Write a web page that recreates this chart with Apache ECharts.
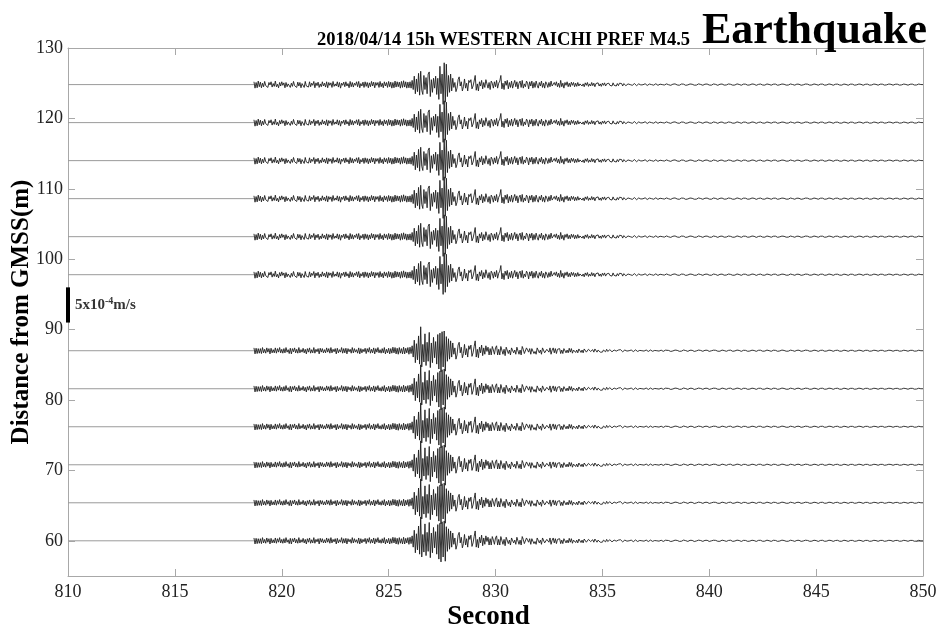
<!DOCTYPE html>
<html>
<head>
<meta charset="utf-8">
<script src="https://cdn.jsdelivr.net/npm/echarts@6/dist/echarts.min.js"></script>
<style>html,body{margin:0;padding:0;background:#fff}#c{width:941px;height:633px}</style>
</head>
<body>
<div id="c"></div>
<script>
// ---- Data (velocity in units of 1e-4 m/s, time in seconds) ----
const xTicks = [810, 815, 820, 825, 830, 835, 840, 845, 850];
const yTicks = [60, 70, 80, 90, 100, 110, 120, 130];
const yMin = 55;
const lowerDistances = [60, 65.4, 70.8, 76.2, 81.6, 87];
const upperDistances = [97.8, 103.2, 108.6, 114, 119.4, 124.8];
const recordStart = 810;
const onsetTime = 818.7;     // first sample of the waveform arrays
const mainStep = 0.05;       // s, waveform arrays 818.70 - 837.95
const tailStart = 838;
const tailStep = 0.1;        // s, tail arrays 838.0 - 849.9
const recordEnd = 850;
const scaleBar = [91, 96];   // 5x10^-4 m/s

// upper group (97.8 - 124.8 m)
const upperWave = [
0.4,-0.5,0.3,-0.45,0.5,-0.3,
0.35,-0.45,0.2,-0.3,0.45,-0.15,0.1,-0.4,0.3,-0.05,0.4,-0.35,0.15,-0.25,0.5,-0.3,0.05,-0.45,0.3,-0.2,
0.4,-0.1,0.25,-0.45,0.3,-0.3,0.1,0.35,-0.4,0.2,-0.25,0.45,-0.15,0.0,-0.4,0.35,-0.2,0.3,-0.45,0.15,
0.3,-0.4,0.45,-0.2,0.05,-0.35,0.4,-0.3,0.2,-0.1,0.45,-0.45,0.25,-0.15,0.35,-0.4,0.1,-0.3,0.4,-0.2,
0.2,-0.35,0.4,-0.45,0.3,-0.1,0.25,-0.4,0.45,-0.25,0.1,-0.2,0.4,-0.35,0.3,-0.5,0.2,-0.1,0.35,-0.3,
0.4,-0.2,0.15,-0.45,0.45,-0.3,0.3,-0.35,0.2,-0.1,0.4,-0.3,0.45,-0.45,0.15,-0.2,0.35,-0.4,0.4,-0.25,
0.3,-0.45,0.25,-0.3,0.45,-0.2,0.35,-0.45,0.3,-0.1,0.3,-0.4,0.45,-0.3,0.2,-0.45,0.4,-0.2,0.3,-0.4,
0.45,-0.3,0.35,-0.5,0.3,-0.45,0.5,-0.35,0.4,-0.3,0.35,-0.5,0.45,-0.4,0.55,-0.35,0.4,-0.5,0.35,-0.45,
0.4,-0.5,0.6,-0.7,1.2,-1.3,0.8,-1.0,1.6,-1.5,1.9,-0.8,-1.4,1.3,-0.7,1.0,-1.3,1.5,1.8,-1.7,
0.7,-1.1,0.9,-0.5,1.2,-1.4,0.9,-2.1,2.6,-1.3,1.5,-2.8,3.1,-2.5,2.9,-1.7,1.3,-1.1,1.5,-0.9,
0.9,-0.4,0.3,-1.0,-0.5,0.7,1.1,-0.2,0.4,-0.9,-0.3,0.8,-0.5,0.2,-0.9,0.6,0.3,0.7,-0.6,-0.2,
0.5,1.3,-0.8,0.1,-0.9,0.4,-0.2,0.6,-0.6,0.3,-0.4,0.7,0.1,-0.5,0.3,-0.7,0.5,0.2,-0.5,0.4,
-0.3,0.6,-0.5,0.2,0.5,1.3,-0.6,0.2,-0.7,0.5,-0.1,0.6,-0.6,0.3,-0.4,0.5,-0.5,0.1,0.6,-0.3,
0.4,-0.6,0.2,0.5,-0.4,0.6,-0.5,0.1,-0.3,0.5,0.2,-0.6,0.4,-0.2,0.5,-0.5,0.3,-0.4,0.5,-0.1,
-0.5,0.3,-0.2,0.5,-0.4,0.2,-0.5,0.4,0.1,-0.4,0.3,-0.3,0.5,-0.2,-0.4,0.3,-0.1,0.4,-0.3,0.2,
-0.4,0.6,-0.3,0.2,-0.5,0.3,-0.1,0.4,-0.3,0.2,-0.3,0.35,-0.1,0.3,-0.3,0.2,-0.25,0.3,-0.2,0.1,
0.3,-0.2,0.1,-0.3,0.25,-0.1,0.3,-0.25,0.1,-0.2,0.3,-0.15,0.2,-0.3,0.15,-0.1,0.25,-0.2,0.1,-0.25,
0.2,-0.1,0.25,-0.2,0.1,-0.15,0.2,-0.1,0.15,-0.2,0.25,-0.1,0.1,-0.2,0.15,-0.15,0.2,-0.05,0.15,-0.2,
0.15,-0.05,-0.15,-0.05,0.1,0.15,0.0,-0.15,-0.1,0.1,0.15,0.0,-0.15,-0.05,0.1,0.1,-0.05,-0.12,-0.02,0.1,
0.12,0.0,-0.12,-0.08,0.08,0.12,0.0,-0.1,-0.08,0.05,0.12,0.02,-0.1,-0.08,0.06,0.1,0.0,-0.1,-0.06,0.08
];
const upperTail = [
0.1,-0.02,-0.1,0.06,0.1,-0.05,-0.09,0.08,0.06,-0.1,
-0.04,0.09,0.05,-0.08,-0.07,0.1,0.02,-0.09,0.06,0.08,
-0.06,-0.08,0.09,0.03,-0.1,0.05,0.08,-0.07,-0.05,0.09,
0.04,-0.08,-0.06,0.1,0.02,-0.09,0.07,0.06,-0.08,-0.04,
0.09,0.05,-0.1,0.03,0.08,-0.06,-0.07,0.09,0.02,-0.08,
0.06,0.07,-0.09,-0.02,0.08,0.05,-0.07,-0.06,0.09,0.01,
-0.08,0.07,0.05,-0.09,-0.03,0.08,0.06,-0.07,-0.05,0.09,
0.02,-0.08,0.06,0.07,-0.08,-0.04,0.09,0.03,-0.09,0.05,
0.07,-0.06,-0.07,0.08,0.02,-0.09,0.06,0.06,-0.08,-0.03,
0.08,0.04,-0.09,0.04,0.07,-0.07,-0.05,0.08,0.03,-0.08,
0.06,0.06,-0.07,-0.03,0.08,0.04,-0.08,0.05,0.06,-0.07,
-0.04,0.08,0.02,-0.08,0.05,0.07,-0.06,-0.05,0.08,0.01
];

// lower group (60 - 87 m)
const lowerWave = [
0.4,-0.45,0.35,-0.4,0.3,-0.35,
0.3,-0.4,0.45,-0.3,0.2,-0.35,0.4,-0.2,0.3,-0.45,0.35,-0.3,0.15,-0.3,0.4,-0.35,0.3,-0.2,0.45,-0.3,
0.2,-0.35,0.3,-0.3,0.45,-0.2,0.15,-0.4,0.35,-0.45,0.3,-0.15,0.4,-0.3,0.2,-0.35,0.45,-0.3,0.15,-0.2,
0.35,-0.3,0.2,-0.45,0.3,-0.2,0.4,-0.35,0.15,-0.3,0.45,-0.35,0.2,-0.15,0.3,-0.45,0.35,-0.2,0.3,-0.3,
0.15,-0.3,0.4,-0.2,0.3,-0.35,0.45,-0.3,0.2,-0.15,0.3,-0.45,0.35,-0.3,0.15,-0.2,0.45,-0.35,0.3,-0.3,
0.35,-0.45,0.3,-0.15,0.2,-0.35,0.45,-0.3,0.3,-0.2,0.15,-0.35,0.4,-0.45,0.3,-0.3,0.2,-0.15,0.35,-0.4,
0.3,-0.2,0.45,-0.35,0.2,-0.3,0.4,-0.45,0.3,-0.2,0.45,-0.3,0.15,-0.35,0.3,-0.3,0.45,-0.45,0.2,-0.3,
0.35,-0.45,0.3,-0.35,0.5,-0.3,0.45,-0.45,0.35,-0.5,0.45,-0.35,0.3,-0.45,0.5,-0.45,0.35,-0.3,0.45,-0.5,
0.5,-0.4,0.7,-0.9,1.5,-1.7,1.0,-1.3,2.1,-1.9,3.4,-2.3,0.9,-1.6,2.4,-2.1,1.2,-1.5,2.6,-2.4,
1.1,-1.7,1.9,-1.0,1.3,-1.9,2.3,-2.6,2.5,-3.0,2.7,-2.3,2.8,-2.9,2.0,-1.5,1.7,-1.2,1.4,-0.9,
1.1,-0.5,0.4,-1.2,-0.6,0.8,1.2,-0.3,0.5,-1.0,-0.4,0.9,-0.6,0.3,-0.9,0.7,0.2,0.8,-0.8,-0.3,
0.6,1.4,-0.9,0.2,-1.0,0.5,-0.3,0.8,-0.7,0.4,-0.5,0.7,-0.1,0.5,-0.6,0.3,-0.6,0.6,0.1,-0.5,
0.4,0.7,-0.6,0.2,-0.6,0.6,0.7,-0.5,0.2,-0.7,0.5,0.6,-0.4,0.1,-0.6,0.4,0.6,-0.3,0.1,-0.5,
0.5,0.5,-0.5,0.1,-0.6,0.6,0.2,-0.4,-0.5,0.4,0.6,-0.2,0.3,-0.5,0.3,0.5,-0.4,-0.1,-0.5,0.4,
0.5,-0.3,0.1,-0.5,0.4,0.5,-0.3,-0.5,0.2,0.4,-0.2,0.4,-0.5,0.1,0.4,-0.3,0.3,-0.4,0.2,0.4,
0.3,-0.4,0.1,-0.4,0.3,0.4,-0.3,0.1,-0.3,0.35,-0.2,0.3,-0.35,0.1,0.3,-0.25,0.1,-0.3,0.25,0.2,
-0.25,0.1,-0.3,0.25,0.1,-0.2,-0.25,0.2,0.25,-0.1,-0.2,0.15,-0.2,0.25,0.05,-0.2,0.1,0.15,-0.2,-0.05,
-0.2,0.1,0.15,-0.15,0.2,-0.1,-0.2,0.15,0.1,-0.15,-0.2,0.1,0.15,-0.05,-0.15,0.1,-0.1,0.15,0.05,-0.15,
-0.1,0.1,0.15,-0.05,-0.15,0.0,0.12,0.1,-0.08,-0.12,0.02,0.12,0.06,-0.1,-0.1,0.05,0.12,0.0,-0.1,-0.05,
0.08,0.1,-0.04,-0.1,-0.02,0.1,0.06,-0.08,-0.08,0.04,0.1,0.0,-0.1,-0.05,0.07,0.08,-0.04,-0.09,0.0,0.08
];
const lowerTail = [
0.08,0.04,-0.1,-0.03,0.09,0.05,-0.08,-0.06,0.1,0.02,
-0.09,0.07,0.06,-0.1,-0.02,0.09,0.04,-0.08,0.06,0.07,
-0.09,-0.01,0.08,0.06,-0.07,-0.07,0.09,0.02,-0.08,0.05,
0.08,-0.08,-0.03,0.09,0.04,-0.09,0.06,0.05,-0.08,-0.04,
0.08,0.03,-0.09,0.06,0.07,-0.07,-0.05,0.09,0.01,-0.08,
0.07,0.05,-0.08,-0.03,0.09,0.04,-0.07,-0.06,0.08,0.02,
-0.08,0.06,0.07,-0.08,-0.02,0.08,0.05,-0.07,-0.05,0.08,
0.03,-0.09,0.05,0.07,-0.07,-0.04,0.08,0.04,-0.08,0.04,
0.07,-0.06,-0.06,0.08,0.02,-0.08,0.05,0.06,-0.07,-0.03,
0.08,0.03,-0.08,0.05,0.06,-0.07,-0.04,0.07,0.03,-0.07,
0.05,0.06,-0.07,-0.02,0.07,0.04,-0.07,0.04,0.06,-0.06,
-0.04,0.07,0.02,-0.07,0.05,0.06,-0.06,-0.04,0.07,0.0
];

// ---- Build ----
function buildTrace(dist, wave, tail) {
  const pts = [];
  wave.forEach((v, i) => pts.push([+(onsetTime + i * mainStep).toFixed(2), dist + v]));
  tail.forEach((v, i) => pts.push([+(tailStart + i * tailStep).toFixed(2), dist + v]));
  pts.push([recordEnd, dist]);
  return pts;
}
const serif = '"Liberation Serif","Times New Roman",serif';
const seriesOpts = [];
function addTrace(d, wave, tail) {
  seriesOpts.push({
    type: 'line', data: [[recordStart, d], [onsetTime, d]], symbol: 'none', silent: true,
    animation: false, lineStyle: { color: '#9a9a9a', width: 1 }
  });
  seriesOpts.push({
    type: 'line', data: buildTrace(d, wave, tail), showSymbol: false, symbol: 'none', silent: true,
    sampling: null, animation: false, lineStyle: { color: '#1e1e1e', width: 0.9 }
  });
}
lowerDistances.forEach(d => addTrace(d, lowerWave, lowerTail));
upperDistances.forEach(d => addTrace(d, upperWave, upperTail));

seriesOpts.push({
  type: 'line', data: [[recordStart, scaleBar[0]], [recordStart, scaleBar[1]]],
  symbol: 'none', silent: true, animation: false, clip: false, z: 5,
  lineStyle: { color: '#000', width: 4, cap: 'butt' }
});
seriesOpts.push({
  type: 'scatter', data: [[recordStart, (scaleBar[0] + scaleBar[1]) / 2]],
  symbolSize: 0, silent: true, animation: false, clip: false,
  label: {
    show: true, position: 'right', distance: 7,
    formatter: '{a|5x10}{s|-4}{a|m/s}',
    rich: {
      a: { fontFamily: serif, fontWeight: 'bold', fontSize: 15, color: '#000' },
      s: { fontFamily: serif, fontWeight: 'bold', fontSize: 10, color: '#000', verticalAlign: 'top', padding: [0, 0, 8, 0] }
    }
  }
});

const axisGray = '#a8a8a8';
const chart = echarts.init(document.getElementById('c'), null, { renderer: 'canvas' });
chart.setOption({
  animation: false,
  backgroundColor: '#fff',
  title: [
    { text: '2018/04/14 15h WESTERN AICHI PREF M4.5', left: 312, top: 26,
      textStyle: { fontFamily: serif, fontWeight: 'bold', fontSize: 18.5, color: '#000' } },
    { text: 'Earthquake', left: 697, top: 5,
      textStyle: { fontFamily: serif, fontWeight: 'bold', fontSize: 44, color: '#000' } }
  ],
  grid: { left: 68, right: 18, top: 48, bottom: 57, containLabel: false, outerBoundsMode: 'none' },
  xAxis: [
    { type: 'value', position: 'bottom', min: xTicks[0], max: xTicks[xTicks.length - 1], interval: 5,
      name: 'Second', nameLocation: 'middle', nameGap: 28, nameMoveOverlap: false,
      nameTextStyle: { fontFamily: serif, fontWeight: 'bold', fontSize: 27, color: '#000', padding: [0, 14, 0, 0] },
      axisLine: { show: true, lineStyle: { color: axisGray, width: 1 } },
      axisTick: { show: true, inside: true, length: 7, lineStyle: { color: axisGray } },
      axisLabel: { fontFamily: serif, fontSize: 18, color: '#222', margin: 7 },
      splitLine: { show: false } },
    { type: 'value', position: 'top', min: xTicks[0], max: xTicks[xTicks.length - 1], interval: 5,
      axisLine: { show: true, lineStyle: { color: axisGray, width: 1 } },
      axisTick: { show: true, inside: true, length: 7, lineStyle: { color: axisGray } },
      axisLabel: { show: false }, splitLine: { show: false } }
  ],
  yAxis: [
    { type: 'value', position: 'left', min: yMin, max: yTicks[yTicks.length - 1], interval: 5,
      name: 'Distance from GMSS(m)', nameLocation: 'middle', nameGap: 34, nameMoveOverlap: false,
      nameTextStyle: { fontFamily: serif, fontWeight: 'bold', fontSize: 25, color: '#000' },
      axisLine: { show: true, lineStyle: { color: axisGray, width: 1 } },
      axisTick: { show: true, inside: true, length: 7, lineStyle: { color: axisGray }, customValues: yTicks },
      axisLabel: { fontFamily: serif, fontSize: 18, color: '#222', margin: 5, customValues: yTicks },
      splitLine: { show: false } },
    { type: 'value', position: 'right', min: yMin, max: yTicks[yTicks.length - 1], interval: 5,
      axisLine: { show: true, lineStyle: { color: axisGray, width: 1 } },
      axisTick: { show: true, inside: true, length: 7, lineStyle: { color: axisGray }, customValues: yTicks },
      axisLabel: { show: false }, splitLine: { show: false } }
  ],
  series: seriesOpts
});
</script>
</body>
</html>
